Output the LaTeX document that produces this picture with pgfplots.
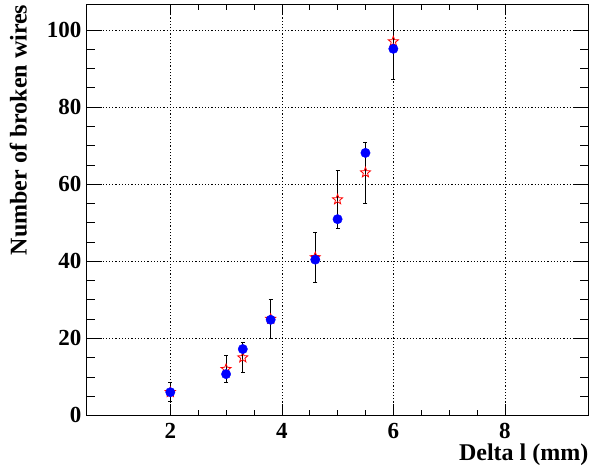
\documentclass[border=0pt]{standalone}
\usepackage{fontspec}
\setmainfont{Liberation Serif}
\newfontfamily\tickserif{Liberation Serif}
\usepackage{pgfplots}
\usepackage{pgfplotstable}
\pgfplotsset{compat=1.18}

% open five-pointed star, like ROOT's marker 30
\pgfdeclareplotmark{ostar}{%
  \pgfpathmoveto{\pgfpointpolar{90}{\pgfplotmarksize}}%
  \pgfpathlineto{\pgfpointpolar{126}{0.42\pgfplotmarksize}}%
  \pgfpathlineto{\pgfpointpolar{162}{\pgfplotmarksize}}%
  \pgfpathlineto{\pgfpointpolar{198}{0.42\pgfplotmarksize}}%
  \pgfpathlineto{\pgfpointpolar{234}{\pgfplotmarksize}}%
  \pgfpathlineto{\pgfpointpolar{270}{0.42\pgfplotmarksize}}%
  \pgfpathlineto{\pgfpointpolar{306}{\pgfplotmarksize}}%
  \pgfpathlineto{\pgfpointpolar{342}{0.42\pgfplotmarksize}}%
  \pgfpathlineto{\pgfpointpolar{18}{\pgfplotmarksize}}%
  \pgfpathlineto{\pgfpointpolar{54}{0.42\pgfplotmarksize}}%
  \pgfpathclose
  \pgfusepathqstroke
}

\newcommand\tickfont{\fontsize{23}{27}\selectfont\tickserif\bfseries}
\newcommand\lblfont{\fontsize{24}{28}\selectfont\bfseries}
\newcommand\tl[1]{\textrm{\tickfont #1}}

% measured: x, count, sqrt(count)
\pgfplotstableread{
x   y   err
2.0 6   2.449
3.0 12  3.464
3.3 15  3.873
3.8 25  5.000
4.6 41  6.403
5.0 56  7.483
5.5 63  7.937
6.0 97  9.849
}\measured

% expected
\pgfplotstableread{
x   y
2.0 6.0
3.0 10.7
3.3 17.2
3.8 24.8
4.6 40.4
5.0 50.9
5.5 68.1
6.0 95.1
}\expected

\begin{document}
\begin{tikzpicture}
\useasboundingbox (-86.7pt,-57.5pt) rectangle (503.5pt,415.5pt);
\begin{axis}[
    scale only axis,
    width=502pt, height=411pt,
    xmin=0.5, xmax=9.5,
    ymin=0, ymax=106.6,
    xtick={2,4,6,8},
    xticklabels={\tl{2},\tl{4},\tl{6},\tl{8}},
    ytick={0,20,40,60,80,100},
    yticklabels={\tl{0},\tl{20},\tl{40},\tl{60},\tl{80},\tl{100}},
    minor x tick num=3,
    minor y tick num=3,
    tick align=inside,
    tick pos=both,
    x tick style={/pgfplots/major tick length=11pt, /pgfplots/minor tick length=5.5pt},
    y tick style={/pgfplots/major tick length=15pt, /pgfplots/minor tick length=8pt},
    every tick/.append style={black, line width=0.6pt},
    axis line style={line width=1.2pt},
    grid=major,
    major grid style={black, line width=0.5pt, dash pattern=on 1.2pt off 2pt},
    tick label style={font=\tickfont, inner sep=0pt},
    xticklabel style={yshift=-7.5pt},
    yticklabel style={xshift=-5pt},
    xlabel={Delta l (mm)},
    xlabel style={at={([yshift=-45pt]rel axis cs:1,0)}, anchor=base east,
        inner sep=0pt, font=\lblfont},
    ylabel={Number of broken wires},
    ylabel style={at={([xshift=-60pt]rel axis cs:0,1)}, anchor=base east,
        inner sep=0pt, font=\lblfont},
]
\addplot[
    only marks, red, mark=ostar, mark size=5.3pt,
    mark options={line width=0.8pt, fill=none},
    error bars/.cd, y dir=both, y explicit,
    error bar style={black, line width=0.8pt},
    error mark options={black, line width=0.8pt, mark size=2pt, rotate=90},
] table[x=x, y=y, y error=err] {\measured};
\addplot[
    only marks, blue, mark=*, mark size=4.7pt,
    mark options={fill=blue, draw=blue},
] table[x=x, y=y] {\expected};
\end{axis}
\end{tikzpicture}
\end{document}
